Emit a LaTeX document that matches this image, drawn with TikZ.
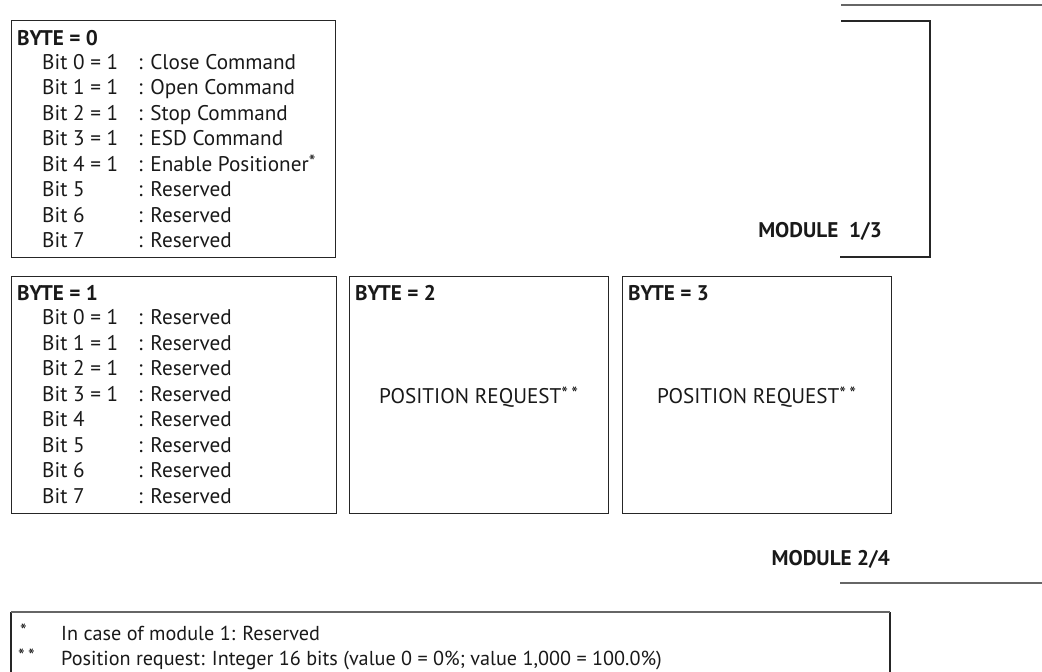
\documentclass[tikz,border=0pt]{standalone}
\usepackage{fontspec}
\setmainfont{PT Sans}
% small raised asterisk marks
\newcommand{\starmark}[1]{\raisebox{2.5pt}{\fontsize{19}{19}\selectfont #1}}
\begin{document}
\begin{tikzpicture}[x=1pt,y=-1pt,
  frame/.style={draw=black!85, line width=1.2pt, rectangle, inner sep=0pt, anchor=north west},
  rule/.style={draw=black!60, line width=1.6pt},
  bracket/.style={draw=black!85, line width=1.2pt},
  txt/.style={inner sep=0pt, anchor=base west, font=\fontsize{21.2}{24}\selectfont, text=black!90},
  note/.style={txt, font=\fontsize{20.2}{24}\selectfont},
  head/.style={txt, font=\fontsize{21.2}{24}\selectfont\bfseries},
  mod/.style={inner sep=0pt, anchor=base east, font=\fontsize{21.2}{24}\selectfont\bfseries, text=black!90},
  mid/.style={inner sep=0pt, anchor=base, font=\fontsize{21.2}{24}\selectfont, text=black!90}]
\useasboundingbox (0,0) rectangle (1042,672);

% module 1/3 bracket and top rule
\coordinate (r1a) at (841,5);
\coordinate (r1b) at (1042,5);
\draw[rule] (r1a) -- (r1b);
\coordinate (k1) at (841,21);
\coordinate (k2) at (930,21);
\coordinate (k3) at (930,257);
\coordinate (k4) at (840,257);
\draw[bracket] (k1) -- (k2) -- (k3) -- (k4);
\node[mod] (m13) at (882,237) {MODULE\ \ 1/3};

% byte 0
\node[frame, minimum width=324pt, minimum height=237pt] (b0) at (11,20) {};
\node[head] (b0h) at (17,45) {BYTE = 0};
\foreach \i/\l/\r in {0/Bit 0 = 1/: Close Command,
                      1/Bit 1 = 1/: Open Command,
                      2/Bit 2 = 1/: Stop Command,
                      3/Bit 3 = 1/: ESD Command,
                      4/Bit 4 = 1/: Enable Positioner\starmark{*},
                      5/Bit 5/: Reserved,
                      6/Bit 6/: Reserved,
                      7/Bit 7/: Reserved}{
  \node[txt] (b0l\i) at (42,69+25.5*\i) {\l};
  \node[txt] (b0r\i) at (138,69+25.5*\i) {\r};
}

% byte 1
\node[frame, minimum width=325pt, minimum height=237pt] (b1) at (11,276) {};
\node[head] (b1h) at (17,300) {BYTE = 1};
\foreach \i/\l in {0/Bit 0 = 1, 1/Bit 1 = 1, 2/Bit 2 = 1, 3/Bit 3 = 1,
                   4/Bit 4, 5/Bit 5, 6/Bit 6, 7/Bit 7}{
  \node[txt] (b1l\i) at (42,324.5+25.5*\i) {\l};
  \node[txt] (b1r\i) at (138,324.5+25.5*\i) {: Reserved};
}

% byte 2
\node[frame, minimum width=259pt, minimum height=237pt] (b2) at (349,276) {};
\node[head] (b2h) at (355,300) {BYTE = 2};
\node[mid] (b2t) at (478.5,403) {POSITION REQUEST\starmark{*\,*}};

% byte 3
\node[frame, minimum width=269pt, minimum height=237pt] (b3) at (622,276) {};
\node[head] (b3h) at (628,300) {BYTE = 3};
\node[mid] (b3t) at (756.5,403) {POSITION REQUEST\starmark{*\,*}};

% module 2/4
\node[mod] (m24) at (890,565) {MODULE 2/4};
\coordinate (r2a) at (840,583);
\coordinate (r2b) at (1042,583);
\draw[rule] (r2a) -- (r2b);

% footnotes
\coordinate (f1) at (11,672);
\coordinate (f2) at (11,612);
\coordinate (f3) at (890,612);
\coordinate (f4) at (890,672);
\draw[bracket] (f1) -- (f2);
\draw[bracket] (f3) -- (f4);
\draw[rule] (f2) -- (f3);
\node[note] (n1s) at (20,640) {\starmark{*}};
\node[note] (n1t) at (61,640) {In case of module 1: Reserved};
\node[note] (n2s) at (18,665) {\starmark{*\,*}};
\node[note] (n2t) at (61,665) {Position request: Integer 16 bits (value 0 = 0\%; value 1,000 = 100.0\%)};
\end{tikzpicture}
\end{document}
